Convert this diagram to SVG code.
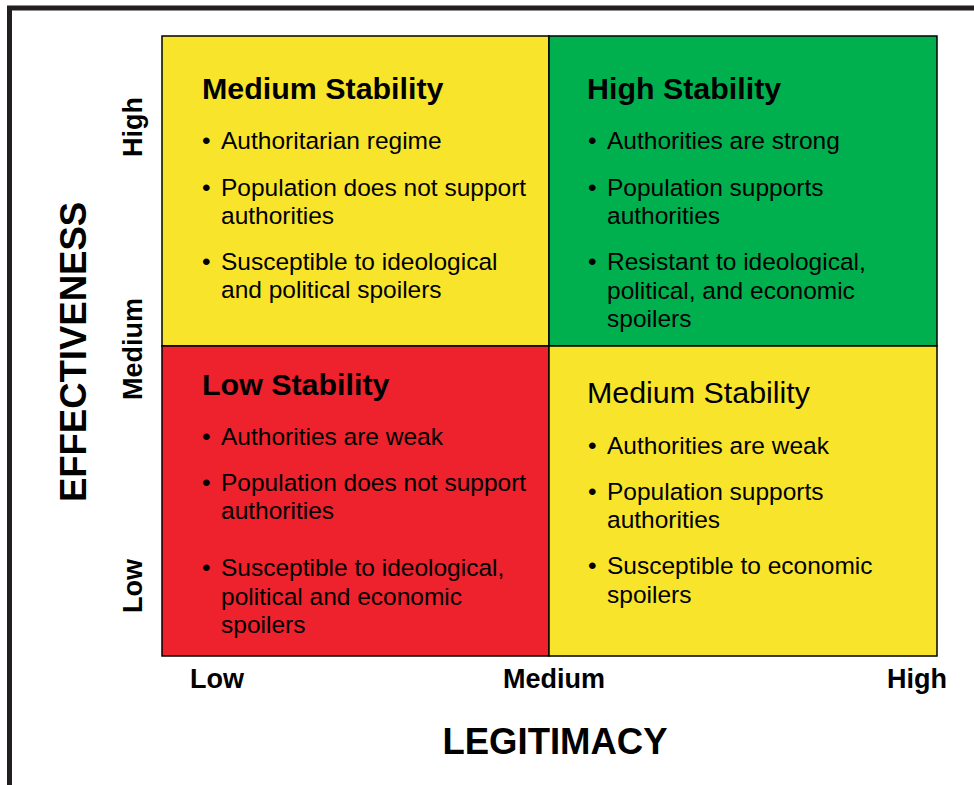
<svg xmlns="http://www.w3.org/2000/svg" width="974" height="785" viewBox="0 0 974 785">
<style>
text{font-family:"Liberation Sans",Arial,sans-serif;fill:#000}
.t{font-size:30.4px;font-weight:bold}
.tn{font-size:30.4px}
.b{font-size:24.5px}
.ax{font-size:27px;font-weight:bold}
.big{font-size:36.5px;font-weight:bold}
.cell{stroke:#000;stroke-width:1.5}
</style>
<rect width="974" height="785" fill="#fff"/>
<g id="frame" fill="none" stroke="#231F20" stroke-width="5">
<path d="M9.5 785 V8 H974"/>
</g>
<g id="q-top-left">
<rect class="cell" x="162" y="36" width="387" height="310" fill="#F8E52B"/>
<text class="t" x="202" y="99">Medium Stability</text>
<text class="b" x="202" y="149">•</text><text class="b" x="221" y="149">Authoritarian regime</text>
<text class="b" x="202" y="196">•</text><text class="b" x="221" y="196">Population does not support</text>
<text class="b" x="221" y="224">authorities</text>
<text class="b" x="202" y="270">•</text><text class="b" x="221" y="270">Susceptible to ideological</text>
<text class="b" x="221" y="298">and political spoilers</text>
</g>
<g id="q-top-right">
<rect class="cell" x="549" y="36" width="388" height="310" fill="#00B04F"/>
<text class="t" x="587" y="99">High Stability</text>
<text class="b" x="588" y="149">•</text><text class="b" x="607" y="149">Authorities are strong</text>
<text class="b" x="588" y="196">•</text><text class="b" x="607" y="196">Population supports</text>
<text class="b" x="607" y="224">authorities</text>
<text class="b" x="588" y="270">•</text><text class="b" x="607" y="270">Resistant to ideological,</text>
<text class="b" x="607" y="298.5">political, and economic</text>
<text class="b" x="607" y="327">spoilers</text>
</g>
<g id="q-bottom-left">
<rect class="cell" x="162" y="346" width="387" height="310" fill="#ED222D"/>
<text class="t" x="202" y="395">Low Stability</text>
<text class="b" x="202" y="445">•</text><text class="b" x="221" y="445">Authorities are weak</text>
<text class="b" x="202" y="491">•</text><text class="b" x="221" y="491">Population does not support</text>
<text class="b" x="221" y="519">authorities</text>
<text class="b" x="202" y="576">•</text><text class="b" x="221" y="576">Susceptible to ideological,</text>
<text class="b" x="221" y="605">political and economic</text>
<text class="b" x="221" y="633">spoilers</text>
</g>
<g id="q-bottom-right">
<rect class="cell" x="549" y="346" width="388" height="310" fill="#F8E52B"/>
<text class="tn" x="587" y="403">Medium Stability</text>
<text class="b" x="588" y="454">•</text><text class="b" x="607" y="454">Authorities are weak</text>
<text class="b" x="588" y="500">•</text><text class="b" x="607" y="500">Population supports</text>
<text class="b" x="607" y="528">authorities</text>
<text class="b" x="588" y="574">•</text><text class="b" x="607" y="574">Susceptible to economic</text>
<text class="b" x="607" y="603">spoilers</text>
</g>
<g id="x-axis">
<text class="ax" x="190" y="688">Low</text>
<text class="ax" x="554" y="688" text-anchor="middle">Medium</text>
<text class="ax" x="947" y="688" text-anchor="end">High</text>
<text class="big" x="555" y="754" text-anchor="middle">LEGITIMACY</text>
</g>
<g id="y-axis">
<text class="ax" transform="translate(142 127) rotate(-90)" text-anchor="middle">High</text>
<text class="ax" transform="translate(142 349) rotate(-90)" text-anchor="middle">Medium</text>
<text class="ax" transform="translate(142 586) rotate(-90)" text-anchor="middle">Low</text>
<text class="big" transform="translate(86 352) rotate(-90)" text-anchor="middle">EFFECTIVENESS</text>
</g>
</svg>
